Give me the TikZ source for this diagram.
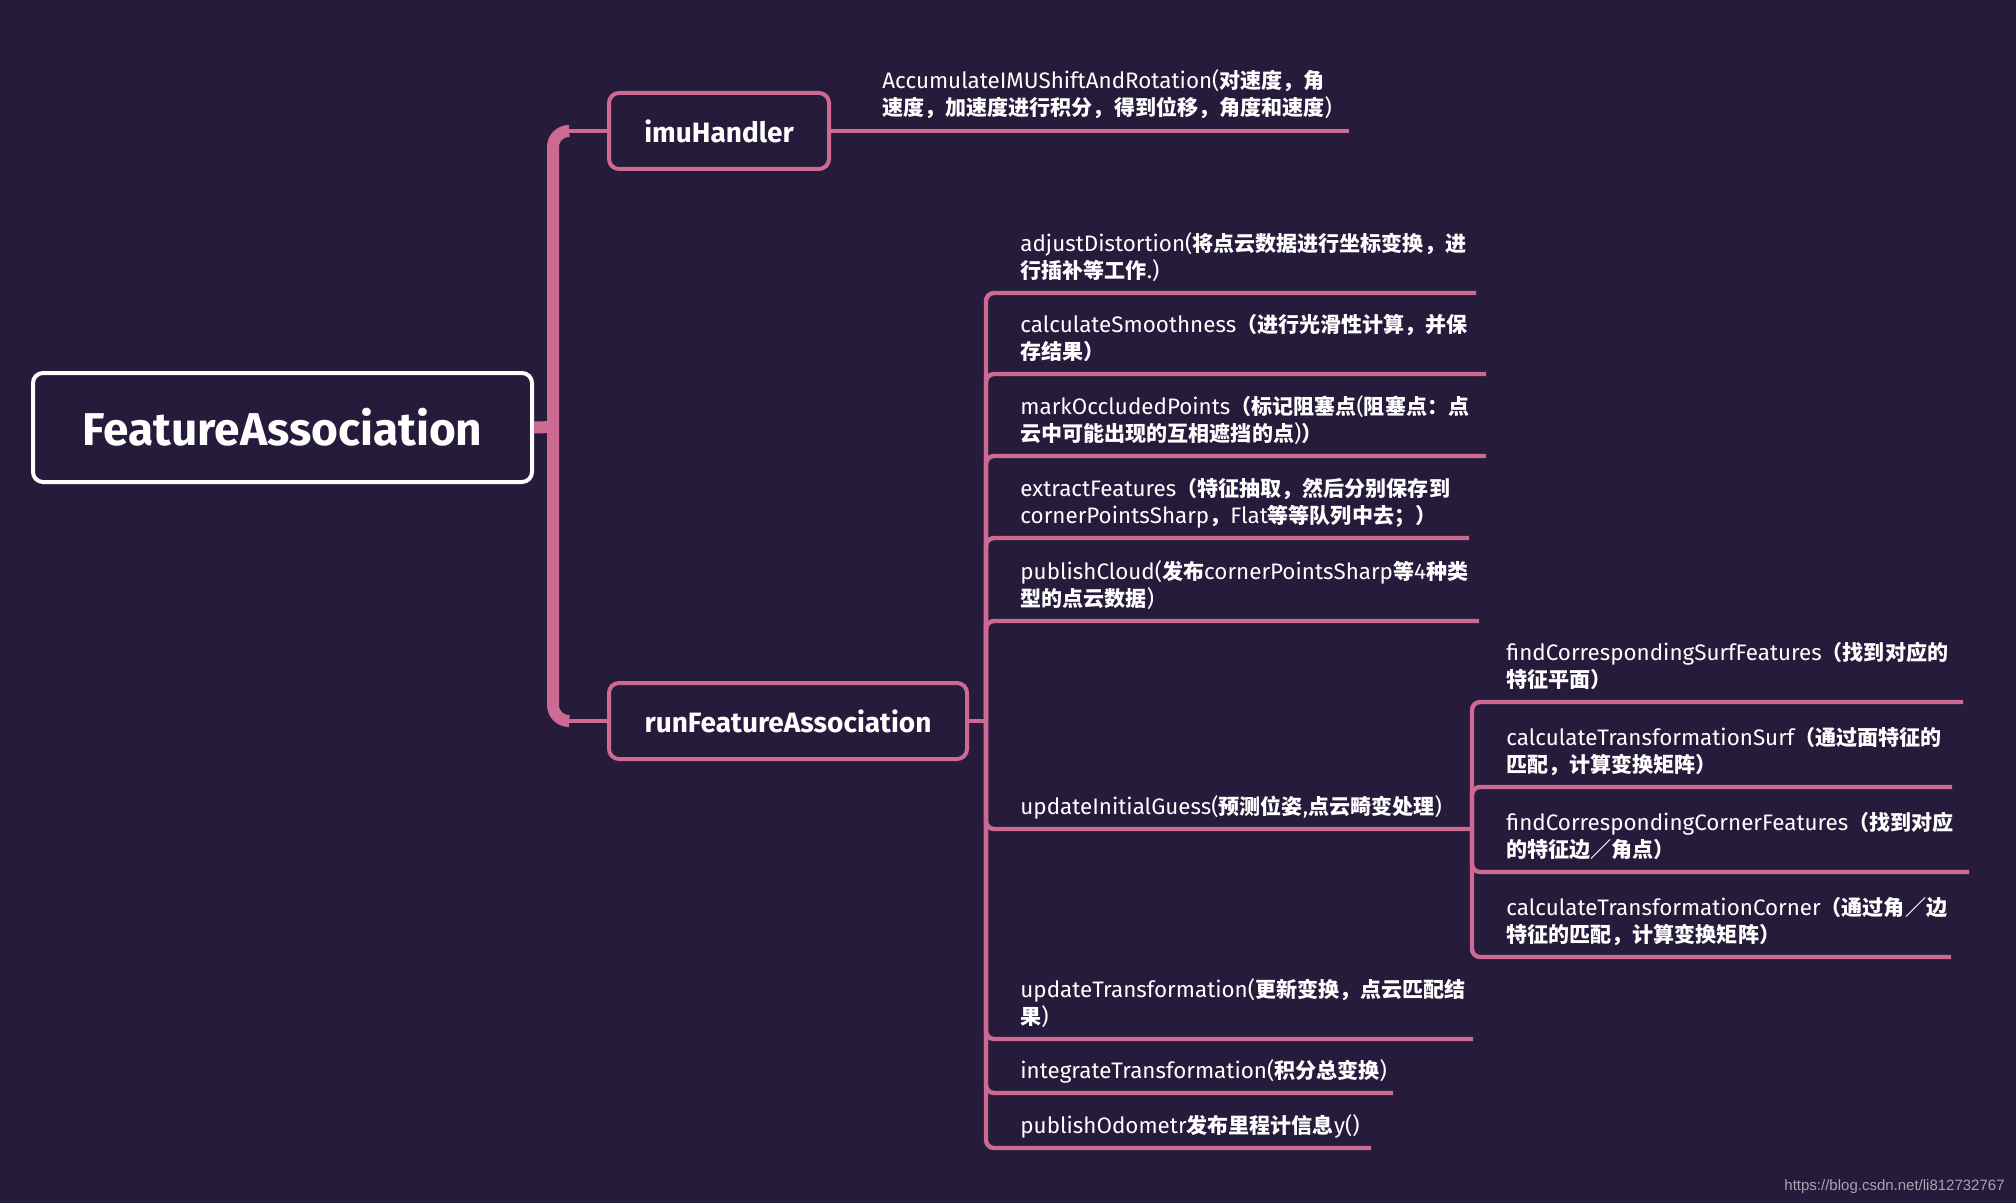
\documentclass[tikz,border=0pt]{standalone}
\usepackage{fontspec}
\setmainfont{Fira Sans}
\newfontfamily\zhfont{Noto Sans CJK SC}[Scale=0.94]
\newfontfamily\wmfont{Liberation Sans}
\newcommand\zh[1]{{\zhfont\bfseries #1}}
\usepackage{tikz}

\definecolor{mapbg}{HTML}{261B3B}
\definecolor{mappink}{HTML}{CC6A94}
\definecolor{markgray}{HTML}{A8A4B0}

\tikzset{
  rootbox/.style={draw=white, line width=2pt, rounded corners=5pt, fill=mapbg, text=white,
    font=\fontsize{23}{27}\selectfont\bfseries, minimum width=249.5pt, minimum height=54.5pt},
  topicbox/.style={draw=mappink, line width=2pt, rounded corners=5pt, fill=mapbg, text=white,
    font=\fontsize{14}{17}\selectfont\bfseries, minimum height=38pt},
  leaf/.style={anchor=south west, inner sep=0pt, align=left, text=white,
    font=\fontsize{11.2}{13.5}\selectfont},
  trunk/.style={draw=mappink, line width=6pt},
  branch/.style={draw=mappink, line width=2.2pt, rounded corners=4pt},
}

\begin{document}
\begin{tikzpicture}[x=0.5pt, y=-0.5pt]
    \fill[mapbg] (0,0) rectangle (2016,1203);
    \useasboundingbox (0,0) rectangle (2016,1203);

    % main topics
    \node[rootbox] (root) at (282.5,427.5) {FeatureAssociation};
    \node[topicbox, minimum width=110pt] (imu) at (719,131) {imuHandler};
    \node[topicbox, minimum width=179pt] (runfa) at (788,721) {runFeatureAssociation};

    \coordinate (hub) at (553,427);
    \coordinate (imuknee) at (568,131);
    \coordinate (faknee) at (568,721);
    \draw[trunk] (root.east) -- (hub);
    \draw[trunk, rounded corners=8pt] (imuknee) -| (hub) |- (faknee);
    \draw[branch] (imuknee) -- (imu.west);
    \draw[branch] (faknee) -- (runfa.west);

    % imuHandler
    \node[leaf] (acc) at (882,124) {AccumulateIMUShiftAndRotation(\zh{对速度，角}\\\zh{速度，加速度进行积分，得到位移，角度和速度})\strut};
    \coordinate (acce) at (1349,131);
    \draw[branch] (imu.east) -- (acce);

    % runFeatureAssociation
    \node[leaf] (c1) at (1020,287) {adjustDistortion(\zh{将点云数据进行坐标变换，进}\\\zh{行插补等工作}.)\strut};
    \node[leaf] (c2) at (1020,368) {calculateSmoothness\zh{（进行光滑性计算，并保}\\\zh{存结果）}\strut};
    \node[leaf] (c3) at (1020,450) {markOccludedPoints\zh{（标记阻塞点}(\zh{阻塞点：点}\\\zh{云中可能出现的互相遮挡的点})\zh{）}\strut};
    \node[leaf] (c4) at (1020,532) {extractFeatures\zh{（特征抽取，然后分别保存到}\\cornerPointsSharp\zh{，}Flat\zh{等等队列中去；）}\strut};
    \node[leaf] (c5) at (1020,615) {publishCloud(\zh{发布}cornerPointsSharp\zh{等}4\zh{种类}\\\zh{型的点云数据})\strut};
    \node[leaf] (c6) at (1020,823) {updateInitialGuess(\zh{预测位姿},\zh{点云畸变处理})\strut};
    \node[leaf] (c7) at (1020,1033) {updateTransformation(\zh{更新变换，点云匹配结}\\\zh{果})\strut};
    \node[leaf] (c8) at (1020,1087) {integrateTransformation(\zh{积分总变换})\strut};
    \node[leaf] (c9) at (1020,1142) {publishOdometr\zh{发布里程计信息}y()\strut};

    \coordinate (fahub) at (986,721);
    \coordinate (c1e) at (1476,293);
    \coordinate (c2e) at (1486,374);
    \coordinate (c3e) at (1486,456);
    \coordinate (c4e) at (1469,538);
    \coordinate (c5e) at (1479,621);
    \coordinate (guesshub) at (1472,829);
    \coordinate (c7e) at (1473,1039);
    \coordinate (c8e) at (1393,1093);
    \coordinate (c9e) at (1371,1148);
    \draw[branch] (runfa.east) -- (fahub);
    \draw[branch] (fahub) |- (c1e);
    \draw[branch] (fahub) |- (c2e);
    \draw[branch] (fahub) |- (c3e);
    \draw[branch] (fahub) |- (c4e);
    \draw[branch] (fahub) |- (c5e);
    \draw[branch] (fahub) |- (guesshub);
    \draw[branch] (fahub) |- (c7e);
    \draw[branch] (fahub) |- (c8e);
    \draw[branch] (fahub) |- (c9e);

    % updateInitialGuess
    \node[leaf] (s1) at (1506,696) {findCorrespondingSurfFeatures\zh{（找到对应的}\\\zh{特征平面）}\strut};
    \node[leaf] (s2) at (1506,781) {calculateTransformationSurf\zh{（通过面特征的}\\\zh{匹配，计算变换矩阵）}\strut};
    \node[leaf] (s3) at (1506,866) {findCorrespondingCornerFeatures\zh{（找到对应}\\\zh{的特征边／角点）}\strut};
    \node[leaf] (s4) at (1506,951) {calculateTransformationCorner\zh{（通过角／边}\\\zh{特征的匹配，计算变换矩阵）}\strut};

    \coordinate (s1e) at (1963,702);
    \coordinate (s2e) at (1952,787);
    \coordinate (s3e) at (1969,872);
    \coordinate (s4e) at (1951,957);
    \draw[branch] (guesshub) |- (s1e);
    \draw[branch] (guesshub) |- (s2e);
    \draw[branch] (guesshub) |- (s3e);
    \draw[branch] (guesshub) |- (s4e);

    \node[anchor=base east, inner sep=0pt, text=markgray, font=\wmfont\fontsize{7.5}{9}\selectfont] (mark) at (2005,1190) {https://blog.csdn.net/li812732767};
\end{tikzpicture}
\end{document}
